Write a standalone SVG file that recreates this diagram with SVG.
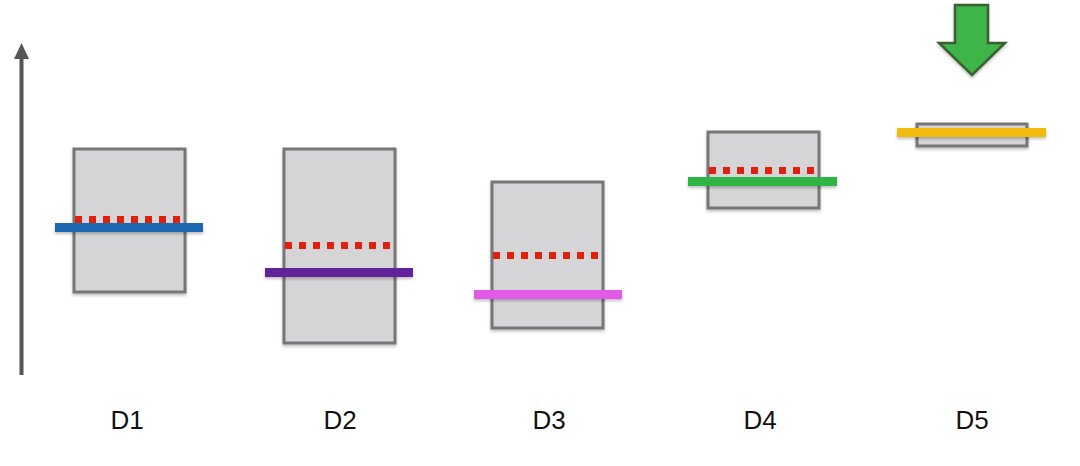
<svg xmlns="http://www.w3.org/2000/svg" width="1080" height="466" viewBox="0 0 1080 466">
<defs>
<style>
.box{fill:#d5d5d7;stroke:#767676;stroke-width:3}
.dots{stroke:#e0200c;stroke-width:7;stroke-dasharray:7 7;fill:none}
.lbl{font-family:"Liberation Sans",Arial,sans-serif;font-size:26px;fill:#111;text-anchor:middle}
</style>
<filter id="sh" x="-10%" y="-20%" width="130%" height="160%">
<feDropShadow dx="0" dy="2" stdDeviation="1.5" flood-color="#000" flood-opacity="0.25"/>
</filter>
</defs>
<rect width="1080" height="466" fill="#ffffff"/>
<g id="axis">
<line x1="21.5" y1="375" x2="21.5" y2="56" stroke="#555" stroke-width="4"/>
<polygon points="21.5,43 14,59 29,59" fill="#555"/>
</g>
<g id="D1">
<rect class="box" x="74" y="149" width="111" height="143" filter="url(#sh)"/>
<line class="dots" x1="75" y1="219.5" x2="185" y2="219.5"/>
<rect x="55" y="223" width="148" height="9" fill="#1f68b3" filter="url(#sh)"/>
<text class="lbl" x="127" y="429">D1</text>
</g>
<g id="D2">
<rect class="box" x="284" y="149" width="111" height="194" filter="url(#sh)"/>
<line class="dots" x1="285" y1="245.5" x2="395" y2="245.5"/>
<rect x="265" y="268" width="148" height="9" fill="#62249a" filter="url(#sh)"/>
<text class="lbl" x="340" y="429">D2</text>
</g>
<g id="D3">
<rect class="box" x="492" y="182" width="111" height="146" filter="url(#sh)"/>
<line class="dots" x1="493" y1="255.5" x2="603" y2="255.5"/>
<rect x="474" y="290" width="148" height="9" fill="#e35ae8" filter="url(#sh)"/>
<text class="lbl" x="549" y="429">D3</text>
</g>
<g id="D4">
<rect class="box" x="708" y="132" width="111" height="76" filter="url(#sh)"/>
<line class="dots" x1="709" y1="170.5" x2="819" y2="170.5"/>
<rect x="688" y="177" width="149" height="9" fill="#2fb545" filter="url(#sh)"/>
<text class="lbl" x="760" y="429">D4</text>
</g>
<g id="D5">
<rect class="box" x="917" y="124" width="110" height="22" filter="url(#sh)"/>
<rect x="897" y="128" width="149" height="9" fill="#f2bb0a" filter="url(#sh)"/>
<polygon points="955,5 988,5 988,43 1005,43 972,75 939,43 955,43" fill="#3cb54a" stroke="#3b5f30" stroke-width="2.5" filter="url(#sh)"/>
<text class="lbl" x="972" y="429">D5</text>
</g>
</svg>
